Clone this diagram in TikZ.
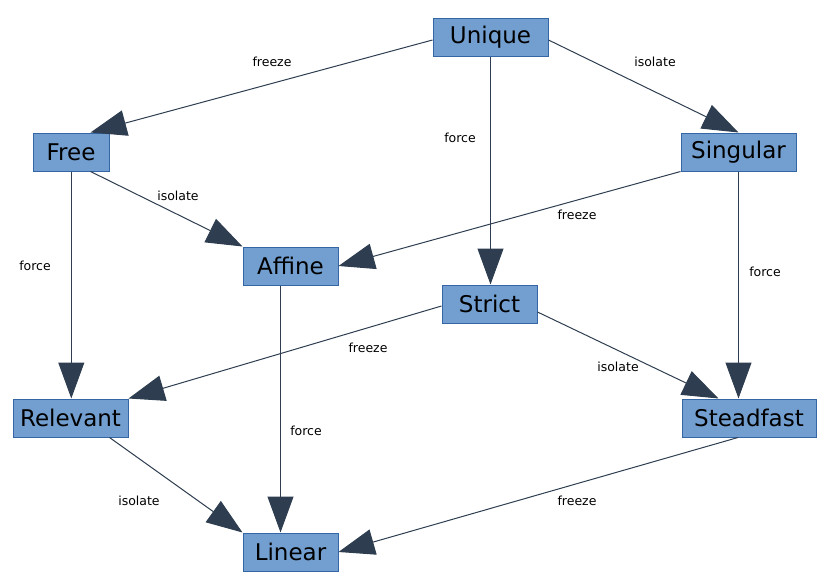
\documentclass[tikz,border=0pt]{standalone}
\usepackage{fontspec}
\setmainfont{DejaVu Sans}
\usetikzlibrary{arrows.meta}
\definecolor{boxfill}{HTML}{729FCF}
\definecolor{boxdraw}{HTML}{3465A4}
\definecolor{edgecol}{HTML}{2E3E50}
\tikzset{
  box/.style={draw=boxdraw, fill=boxfill, line width=1pt, minimum height=38pt, inner sep=0pt,
    font=\fontsize{23}{27}\selectfont, text=black},
  lbl/.style={font=\fontsize{12.5}{15}\selectfont, inner sep=1pt, text=black},
  conn/.style={draw=edgecol, line width=1pt, -{Triangle[length=36pt,width=26pt]}}
}
\begin{document}
\begin{tikzpicture}[x=1pt,y=-1pt]
\useasboundingbox (0,0) rectangle (833,576);
\node[box, minimum width=115pt] (unique) at (490.5,37) {Unique};
\node[box, minimum width=76pt] (free) at (71,152) {Free};
\node[box, minimum width=115pt] (singular) at (738.5,152) {Singular};
\node[box, minimum width=95pt] (affine) at (290.5,266) {Affine};
\node[box, minimum width=95pt] (strict) at (489.5,304) {Strict};
\node[box, minimum width=115pt] (relevant) at (70.5,418) {Relevant};
\node[box, minimum width=134pt] (steadfast) at (749,418) {Steadfast};
\node[box, minimum width=95pt] (linear) at (290.5,552) {Linear};

\draw[conn] ([yshift=-3pt]unique.west) -- ([xshift=-19pt]free.north east);
\draw[conn] ([yshift=-3pt]unique.east) -- (singular.north);
\draw[conn] (unique.south) -- (unique.south |- strict.north);
\draw[conn] ([xshift=-19pt]free.south east) -- (affine.north west);
\draw[conn] ([xshift=0.3pt]free.south) -- ([xshift=0.3pt]free.south |- relevant.north);
\draw[conn] (singular.south west) -- (affine.east);
\draw[conn] (singular.south) -- (singular.south |- steadfast.north);
\draw[conn] ([xshift=-10pt]affine.south) -- ([xshift=-10pt]linear.north);
\draw[conn] ([yshift=-2pt]strict.west) -- (relevant.north east);
\draw[conn] ([yshift=-8pt]strict.east) -- ([xshift=37pt]steadfast.north west);
\draw[conn] ([xshift=-19pt]relevant.south east) -- (linear.north west);
\draw[conn] ([xshift=-11pt]steadfast.south) -- (linear.east);

\node[lbl] (l1) at (272,62) {freeze};
\node[lbl] (l2) at (655,62) {isolate};
\node[lbl] (l3) at (460,138) {force};
\node[lbl] (l4) at (178,196) {isolate};
\node[lbl] (l5) at (35,266) {force};
\node[lbl] (l6) at (577,215) {freeze};
\node[lbl] (l7) at (765,272) {force};
\node[lbl] (l8) at (306,431) {force};
\node[lbl] (l9) at (368,348) {freeze};
\node[lbl] (l10) at (618,367) {isolate};
\node[lbl] (l11) at (139,501) {isolate};
\node[lbl] (l12) at (577,501) {freeze};
\end{tikzpicture}
\end{document}
